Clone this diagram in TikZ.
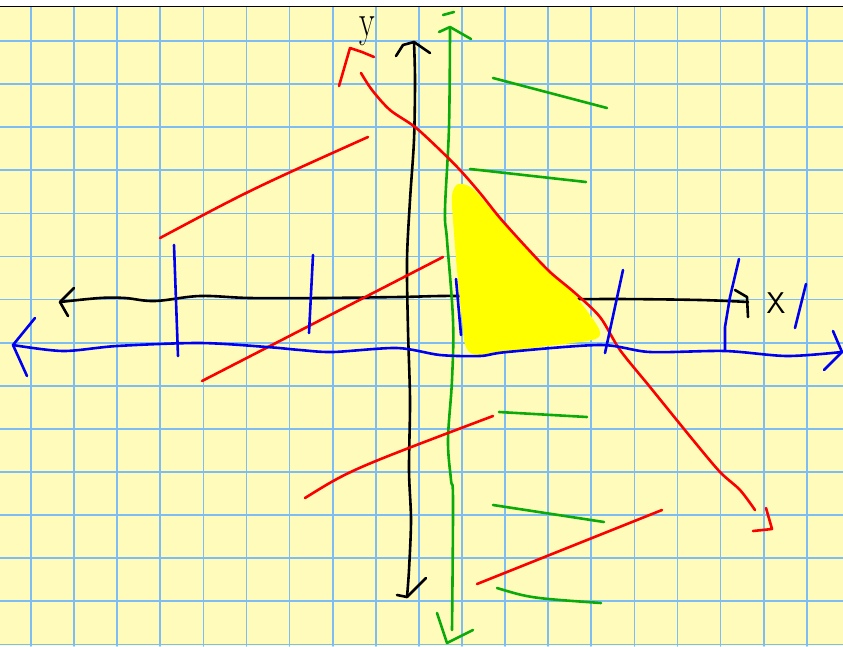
\documentclass[tikz,border=0pt]{standalone}
\usepackage{tikz}
\usepackage{fontspec}
\definecolor{paper}{RGB}{255,252,187}
\definecolor{gridblue}{RGB}{125,188,245}
\definecolor{penred}{RGB}{250,0,0}
\definecolor{pengreen}{RGB}{10,170,10}
\definecolor{penblue}{RGB}{0,0,240}
\definecolor{penyellow}{RGB}{255,255,0}

\begin{document}
\begin{tikzpicture}[x=1pt,y=-1pt,line cap=round,line join=round,
  pen/.style={line width=2.6pt},
  gridline/.style={draw=gridblue,line width=1.7pt}]
\def\gx{31};
\def\gy{41};
\def\gs{43.1};
\useasboundingbox (0,0) rectangle (843,646);
\fill[white] (0,0) rectangle (843,646);
\fill[paper] (0,7) rectangle (843,646); %paper%
\foreach \i in {0,...,18} \draw[gridline] ({\gx+\gs*\i},7) -- ({\gx+\gs*\i},646);
\foreach \j in {0,...,14} \draw[gridline] (0,{\gy+\gs*\j}) -- (843,{\gy+\gs*\j});
\draw[black,line width=1.6pt] (0,6.5) -- (843,6.5);

% black axes%
\coordinate (xl) at (60,302);
\coordinate (xr) at (748,302);
\coordinate (yt) at (414,42);
\coordinate (yb) at (407,597);
\draw[pen,black] plot[smooth,tension=0.6] coordinates {(60,302) (100,298) (125,298) (155,301) (200,296) (250,298) (320,298) (400,297) (460,296) (560,299) (620,299) (700,300) (748,302)};
\draw[pen,black] (74,288) -- (xl) -- (68,316);
\draw[pen,black] (735,290) -- (747,297) -- (748,317);
\draw[pen,black] plot[smooth,tension=0.5] coordinates {(414,42) (415,80) (414,140) (410,200) (407,260) (408,330) (410,400) (409,470) (411,520) (409,570) (407,597)};
\draw[pen,black] (396,56) -- (403,45) -- (yt) -- (430,53);
\draw[pen,black] (397,595) -- (yb) -- (426,578);
\node[black,xscale=0.7,font=\fontsize{46}{46}\selectfont] (ylab) at (367,31) {y};
\node[black,font=\sffamily\fontsize{30}{30}\selectfont] (xlab) at (776,303) {X};

% shaded region%
\fill[penyellow] plot[smooth cycle,tension=0.5] coordinates {(458,184) (472,188) (490,208) (510,230) (530,252) (550,272) (572,292) (590,315) (600,332) (592,340) (540,347) (480,355) (466,347) (462,320) (457,270) (453,220) (452,195)};

% green line x=a%
\coordinate (gt) at (450,27);
\coordinate (gb) at (447,643);
\draw[pen,pengreen] plot[smooth,tension=0.6] coordinates {(450,28) (449,127) (445,210) (447,240) (453,320) (452,380) (448,440) (451,480) (453,500) (452,630)};
\draw[pen,pengreen] (439,32) -- (gt) -- (471,39);
\draw[pen,pengreen] (443,15) -- (454,12);
\draw[pen,pengreen] (437,613) -- (gb) -- (473,630);
\draw[pen,pengreen] (493,78) -- (607,108);
\draw[pen,pengreen] (470,169) -- (586,182);
\draw[pen,pengreen] (499,412) -- (587,417);
\draw[pen,pengreen] (493,505) -- (604,522);
\draw[pen,pengreen] (497,588) .. controls (530,598) .. (601,603);

% red boundary line%
\coordinate (rt) at (350,48);
\coordinate (rb) at (772,529);
\draw[pen,penred] (339,86) -- (rt) -- (362,52) -- (374,57);
\draw[pen,penred] plot[smooth,tension=0.5] coordinates {(361,73) (372,90) (390,110) (415,127) (440,150) (460,170) (480,193) (500,218) (527,248) (550,272) (575,293) (600,317) (620,350) (650,387) (693,440) (720,472) (740,490) (755,510)};
\draw[pen,penred] (766,508) -- (rb) -- (753,531);
\draw[pen,penred] (160,238) .. controls (250,190) .. (368,137);
\draw[pen,penred] (202,381) -- (443,257);
\draw[pen,penred] (305,498) .. controls (350,470) .. (493,416);
\draw[pen,penred] (477,584) -- (662,510);

% blue axis%
\coordinate (bl) at (13,345);
\coordinate (br) at (842,352);
\draw[pen,penblue] plot[smooth,tension=0.5] coordinates {(13,345) (63,351) (117,346) (200,343) (267,347) (300,350) (333,352) (397,348) (440,355) (480,356) (507,352) (600,345) (650,352) (725,351) (787,356) (842,352)};
\draw[pen,penblue] (35,318) -- (bl) -- (27,376);
\draw[pen,penblue] (833,331) -- (br) -- (824,370);
\draw[pen,penblue] (174,245) -- (178,356);
\draw[pen,penblue] (313,255) -- (309,333);
\draw[pen,penblue] (456,279) -- (461,335);
\draw[pen,penblue] (623,270) -- (605,353);
\draw[pen,penblue] (739,259) -- (730,297) -- (725,327) -- (725,350);
\draw[pen,penblue] (806,284) -- (795,328);
\end{tikzpicture}
\end{document}
